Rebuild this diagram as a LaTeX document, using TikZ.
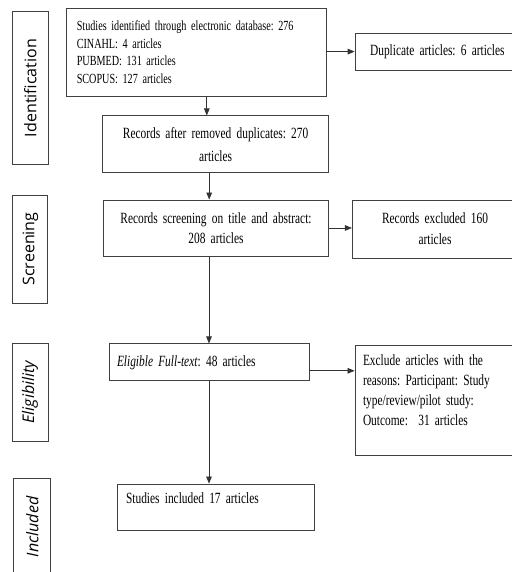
\documentclass[tikz,border=0pt]{standalone}
\usepackage{fontspec}
\setmainfont{Liberation Serif}[FakeStretch=0.73, WordSpace=0.6]
\newfontfamily\phasefont{Open Sans}
\usetikzlibrary{arrows.meta, positioning}
\hyphenpenalty=10000
\frenchspacing

\begin{document}
\begin{tikzpicture}[
  box/.style={draw=black!75, line width=0.6pt, inner ysep=0pt, font=\fontsize{11.1}{13}\selectfont},
  phase/.style={draw=black!75, line width=0.6pt, rotate=90, inner sep=0pt, font=\phasefont\fontsize{11.4}{13}\selectfont},
  arrow/.style={-{Triangle[length=5pt,width=4pt]}, line width=0.5pt, black!80}
]
\useasboundingbox (0,0) rectangle (12.8,14.3);
\clip (0,0) rectangle (12.8,14.3);

% Phase labels on the left
\node[phase, minimum width=3.815cm, minimum height=0.89cm] (ident) at (0.76,12.1) {Identification};
\node[phase, minimum width=2.7cm, minimum height=0.875cm] (screen) at (0.76,8.075) {Screening};
\node[phase, minimum width=2.45cm, minimum height=0.9cm] (elig) at (0.75,4.5) {\itshape Eligibility};
\node[phase, minimum width=2.45cm, minimum height=0.925cm] (incl) at (0.81,1.125) {\itshape Included};

% Main column
\node[box, align=left, text width=5.98cm, inner xsep=0.25cm, minimum height=2.18cm, font=\fontsize{9.9}{12.5}\selectfont] (found) at (4.91,12.99)
  {Studies identified through electronic database: 276\\ CINAHL: 4 articles\\ PUBMED: 131 articles\\ SCOPUS: 127 articles};
\node[box, align=center, text width=5.4cm, minimum width=5.575cm, minimum height=1.425cm, font=\fontsize{11.1}{16.4}\selectfont] (nodup) at (5.39,10.69)
  {Records after removed duplicates: 270\\ articles};
\node[box, align=center, text width=5.4cm, minimum width=5.55cm, minimum height=1.4cm, font=\fontsize{11.1}{14.4}\selectfont] (screened) at (5.40,8.60)
  {Records screening on title and abstract:\\ 208 articles};
\node[box, align=left, text width=4.6cm, inner xsep=0.2cm, minimum height=0.925cm] (fulltext) at (5.225,5.24)
  {\textit{Eligible Full-text}: 48 articles};
\node[box, align=left, text width=4.475cm, inner xsep=0.225cm, text height=0.5cm, text depth=0.65cm] (included) at (5.39,1.625)
  {Studies included 17 articles};

% Right column (cut at the page edge)
\node[box, align=left, text width=3.375cm, inner xsep=0.375cm, minimum height=0.925cm] (dupl) at (10.94,13.01)
  {Duplicate articles: 6 articles};
\node[box, align=center, text width=3.9cm, minimum width=4.05cm, minimum height=1.45cm, font=\fontsize{11.1}{15}\selectfont] (excl) at (10.875,8.575)
  {Records excluded 160\\ articles};
\node[box, align=left, text width=3.85cm, inner xsep=0.2cm, minimum height=2.75cm, font=\fontsize{11.1}{14.2}\selectfont] (fullexcl) at (11.0,4.30)
  {Exclude articles with the\\ reasons: Participant: Study\\ type/review/pilot study:\\ Outcome:~~31 articles\\ \mbox{}};

% Arrows
\draw[arrow] (found.east |- dupl) -- (dupl.west);
\draw[arrow] ([xshift=0.26cm]found.south) -- ([xshift=0.26cm]found.south |- nodup.north);
\draw[arrow] ([xshift=-0.16cm]nodup.south) -- ([xshift=-0.16cm]nodup.south |- screened.north);
\draw[arrow] (screened.east) -- (screened.east -| excl.west);
\draw[arrow] (fulltext.north |- screened.south) -- (fulltext.north);
\draw[arrow] ([yshift=-0.21cm]fulltext.east) -- ([yshift=-0.21cm]fulltext.east -| fullexcl.west);
\draw[arrow] (fulltext.south) -- (fulltext.south |- included.north);

\end{tikzpicture}
\end{document}
